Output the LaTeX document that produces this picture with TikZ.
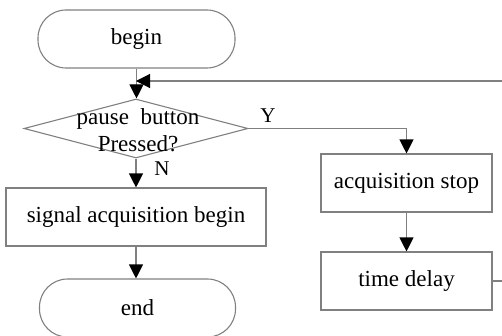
\documentclass[tikz,border=0pt]{standalone}
\usepackage{fontspec}
\setmainfont{Liberation Serif}
\usetikzlibrary{arrows.meta,shapes.geometric}
\begin{document}
\begin{tikzpicture}[x=1pt,y=1pt,
  every node/.style={font=\fontsize{23}{24}\selectfont},
  line/.style={draw=black!50, line width=1.1pt},
  term/.style={line, rectangle, rounded corners=28pt, minimum width=197pt, minimum height=58pt, inner sep=0pt},
  procbox/.style={line, rectangle, minimum height=58pt, inner sep=0pt},
  decision/.style={line, diamond, minimum width=224pt, minimum height=59pt, inner sep=0pt},
  arr/.style={line, -{Triangle[width=14pt,length=14pt,black]}},
  lbl/.style={font=\fontsize{21}{22}\selectfont}
]
\useasboundingbox (0,0) rectangle (502,335);
\clip (0,0) rectangle (502,335);
\node[term] (begin) at (136.5,296) {begin};
\node[decision] (dec) at (136,206.5) {};
\node[align=center, font=\fontsize{23}{27}\selectfont] (dectext) at (138,205) {pause~~button\\Pressed?};
\node[procbox, minimum width=260pt] (sig) at (136,118) {signal acquisition begin};
\node[term, minimum width=196pt] (end) at (137.5,27) {end};
\node[procbox, minimum width=171pt] (as) at (406.5,152) {acquisition stop};
\node[procbox, minimum width=171pt] (td) at (406.5,54) {time delay};
\coordinate (fb) at (136,254);
\coordinate (fbr) at (520,254);
\draw[arr] (begin.south) -- (begin.south |- dec.north);
\draw[arr] (td.east) -| (fbr) -- (fb);
\draw[arr] (dec.east) -| (as.north);
\draw[arr] (dec.south) -- (sig.north);
\draw[arr] (sig.south) -- (sig.south |- end.north);
\draw[arr] (as.south) -- (td.north);
\node[lbl] (ylab) at (268,219) {Y};
\node[lbl] (nlab) at (162,166) {N};
\end{tikzpicture}
\end{document}
